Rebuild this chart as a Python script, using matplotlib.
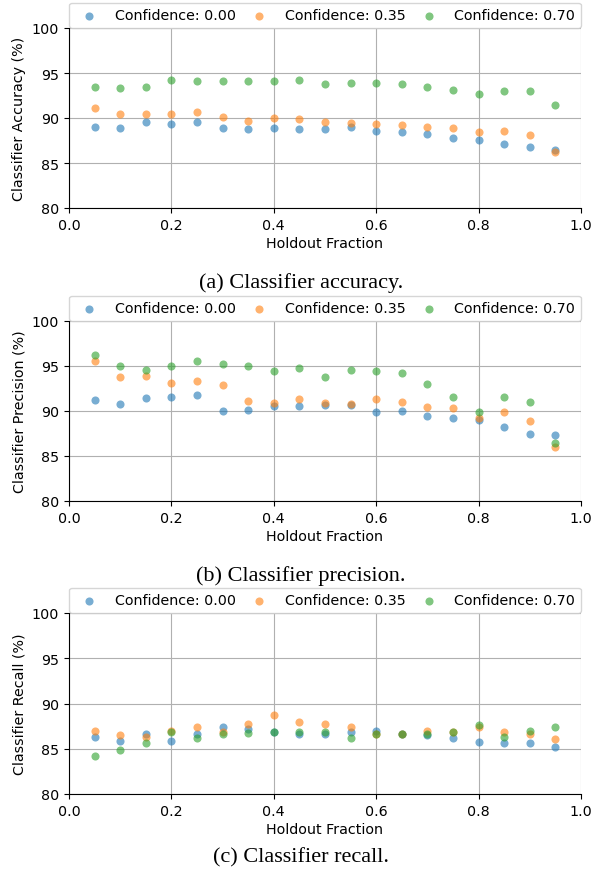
import numpy as np
import matplotlib
matplotlib.use('Agg')
import matplotlib.pyplot as plt

# holdout fractions
fracciones = [0.05, 0.10, 0.15, 0.20, 0.25, 0.30, 0.35, 0.40, 0.45, 0.50,
              0.55, 0.60, 0.65, 0.70, 0.75, 0.80, 0.85, 0.90, 0.95]
etiquetas = ['Confidence: 0.00', 'Confidence: 0.35', 'Confidence: 0.70']

acc_00 = [89.0, 88.9, 89.6, 89.3, 89.6, 88.9, 88.8, 88.9, 88.8, 88.8,
          89.0, 88.6, 88.5, 88.2, 87.8, 87.6, 87.1, 86.8, 86.5]
acc_35 = [91.1, 90.4, 90.4, 90.4, 90.7, 90.1, 89.7, 90.0, 89.9, 89.6,
          89.4, 89.3, 89.2, 89.0, 88.9, 88.5, 88.6, 88.1, 86.2]
acc_70 = [93.5, 93.3, 93.5, 94.2, 94.1, 94.1, 94.1, 94.1, 94.2, 93.8,
          93.9, 93.9, 93.8, 93.5, 93.1, 92.7, 93.0, 93.0, 91.4]

pre_00 = [91.2, 90.8, 91.4, 91.6, 91.8, 90.0, 90.1, 90.5, 90.5, 90.7,
          90.7, 89.9, 90.0, 89.4, 89.2, 89.0, 88.2, 87.4, 87.3]
pre_35 = [95.6, 93.8, 93.9, 93.1, 93.3, 92.9, 91.1, 90.9, 91.3, 90.9,
          90.8, 91.3, 91.0, 90.4, 90.3, 89.2, 89.9, 88.9, 86.0]
pre_70 = [96.2, 95.0, 94.6, 95.0, 95.6, 95.2, 95.0, 94.4, 94.8, 93.8,
          94.6, 94.4, 94.2, 93.0, 91.6, 89.9, 91.5, 91.0, 86.4]

rec_00 = [86.3, 85.9, 86.6, 85.9, 86.6, 87.4, 87.2, 86.9, 86.6, 86.6,
          86.9, 87.0, 86.6, 86.5, 86.2, 85.8, 85.6, 85.6, 85.2]
rec_35 = [87.0, 86.5, 86.3, 87.0, 87.4, 86.8, 87.7, 88.7, 88.0, 87.7,
          87.4, 86.6, 86.6, 87.0, 86.8, 87.4, 86.9, 86.6, 86.1]
rec_70 = [84.2, 84.9, 85.6, 86.8, 86.2, 86.6, 86.7, 86.9, 86.9, 86.8,
          86.2, 86.6, 86.6, 86.6, 86.8, 87.6, 86.3, 87.0, 87.4]

paneles = [
    ('Classifier Accuracy (%)', [acc_00, acc_35, acc_70], '(a) Classifier accuracy.'),
    ('Classifier Precision (%)', [pre_00, pre_35, pre_70], '(b) Classifier precision.'),
    ('Classifier Recall (%)', [rec_00, rec_35, rec_70], '(c) Classifier recall.'),
]
colores = ['tab:blue', 'tab:orange', 'tab:green']

plt.rcParams['font.size'] = 10.3

W, H = 592, 878
fig = plt.figure(figsize=(W / 100, H / 100), dpi=100)

# axes boxes in pixels: (top, bottom), caption baseline
cajas = [(29, 209, 288), (322, 502, 581), (614, 795, 862)]
izq, der = 69, 581

for (ylab, series, titulo), (top, bot, cap) in zip(paneles, cajas):
    ax = fig.add_axes([izq / W, 1 - bot / H, (der - izq) / W, (bot - top) / H])
    for vals, col, lab in zip(series, colores, etiquetas):
        ax.scatter(fracciones, vals, s=34, color=col, alpha=0.6,
                   linewidths=0, label=lab, zorder=3)
    ax.set_xlim(0, 1)
    ax.set_ylim(80, 100)
    ax.set_yticks([80, 85, 90, 95, 100])
    ax.set_xticks([0.0, 0.2, 0.4, 0.6, 0.8, 1.0])
    ax.grid(True, color='#b0b0b0', linewidth=0.8)
    ax.set_axisbelow(True)
    ax.spines['top'].set_visible(False)
    ax.spines['right'].set_visible(False)
    ax.set_xlabel('Holdout Fraction', labelpad=3)
    ax.set_ylabel(ylab)
    ax.legend(bbox_to_anchor=(0, 1, 1, 0.1), loc='lower left', mode='expand',
              ncol=3, borderaxespad=0)
    fig.text(301 / W, 1 - cap / H, titulo, ha='center', va='baseline',
             family='Liberation Serif', fontsize=16)

fig.savefig('out.png', dpi=100)
